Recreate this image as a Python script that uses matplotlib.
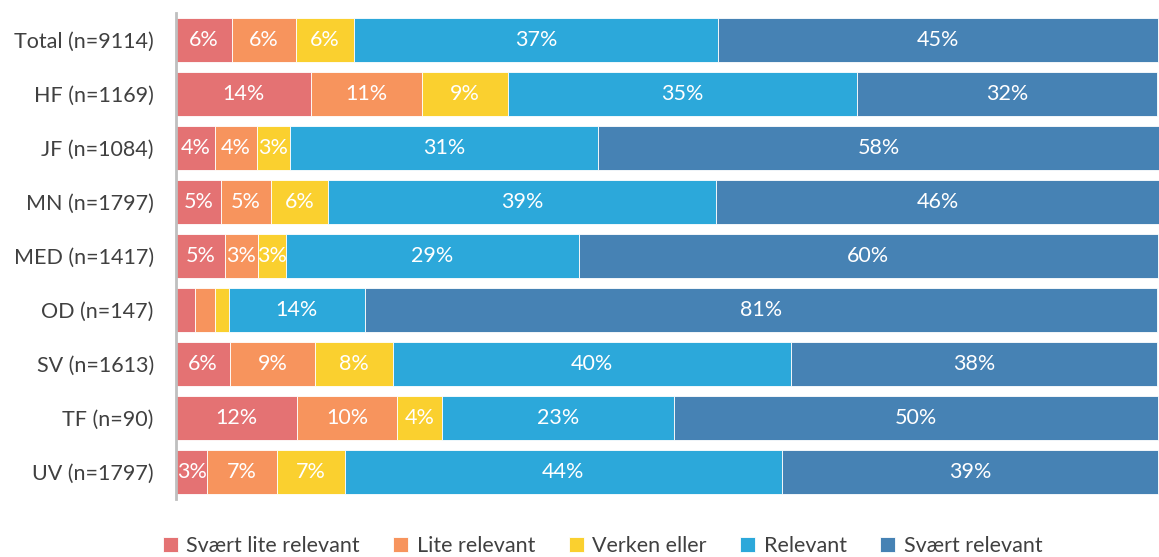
import matplotlib
matplotlib.use("Agg")
import matplotlib.pyplot as plt
import numpy as np

plt.rcParams.update({"font.family": ["Lato", "DejaVu Sans"], "font.size": 15.5})

RED, ORANGE, YELLOW, BLUE, DARK = "#E47273", "#F7945D", "#FAD02F", "#2CA8DA", "#4682B4"

groups = ["Total (n=9114)", "HF (n=1169)", "JF (n=1084)", "MN (n=1797)",
          "MED (n=1417)", "OD (n=147)", "SV (n=1613)", "TF (n=90)", "UV (n=1797)"]
categories = ["Svært lite relevant", "Lite relevant", "Verken eller", "Relevant", "Svært relevant"]

# segment shares (percent of bar length), one list per category
svaert_lite = [5.7, 13.7, 4.0, 4.6, 5.0, 1.9, 5.5, 12.3, 3.2]
lite = [6.5, 11.4, 4.2, 5.1, 3.3, 2.1, 8.7, 10.2, 7.1]
verken = [5.9, 8.7, 3.4, 5.8, 2.9, 1.4, 7.9, 4.6, 6.9]
relevant = [37.1, 35.5, 31.4, 39.5, 29.8, 13.8, 40.5, 23.6, 44.5]
svaert = [44.8, 30.6, 57.1, 45.1, 59.0, 80.7, 37.3, 49.3, 38.3]

# printed labels (blank where the chart shows none)
lab_svaert_lite = ["6%", "14%", "4%", "5%", "5%", "", "6%", "12%", "3%"]
lab_lite = ["6%", "11%", "4%", "5%", "3%", "", "9%", "10%", "7%"]
lab_verken = ["6%", "9%", "3%", "6%", "3%", "", "8%", "4%", "7%"]
lab_relevant = ["37%", "35%", "31%", "39%", "29%", "14%", "40%", "23%", "44%"]
lab_svaert = ["45%", "32%", "58%", "46%", "60%", "81%", "38%", "50%", "39%"]

series = [svaert_lite, lite, verken, relevant, svaert]
labels = [lab_svaert_lite, lab_lite, lab_verken, lab_relevant, lab_svaert]
colors = [RED, ORANGE, YELLOW, BLUE, DARK]

fig = plt.figure(figsize=(11.59, 5.57), dpi=100)
ax = fig.add_axes([176 / 1159, 1 - 499 / 557, 1 - 176 / 1159, 486 / 557])

y = np.arange(len(groups))
left = np.zeros(len(groups))
for vals, labs, col, name in zip(series, labels, colors, categories):
    vals = np.array(vals)
    bars = ax.barh(y, vals, left=left, height=0.8, color=col, edgecolor="white",
                   linewidth=0.6, label=name)
    ax.bar_label(bars, labels=labs, label_type="center", color="white", fontsize=15.5)
    left += vals

ax.set_xlim(0, left.max())
ax.set_ylim(len(groups) - 0.5, -0.5)
ax.set_yticks(y, groups)
ax.set_xticks([])
ax.tick_params(axis="y", length=0, pad=16, labelsize=15.5, labelcolor="#404040")
for s in ["top", "right", "bottom"]:
    ax.spines[s].set_visible(False)
ax.spines["left"].set_color("#BFBFBF")
ax.spines["left"].set_linewidth(2)

fig.legend(loc="upper center", bbox_to_anchor=(0.52, 0.072), ncol=5, frameon=False,
           handlelength=0.7, handleheight=0.7, handletextpad=0.4, columnspacing=1.55,
           fontsize=15.5, labelcolor="#404040")

fig.savefig("out.png", dpi=100)
